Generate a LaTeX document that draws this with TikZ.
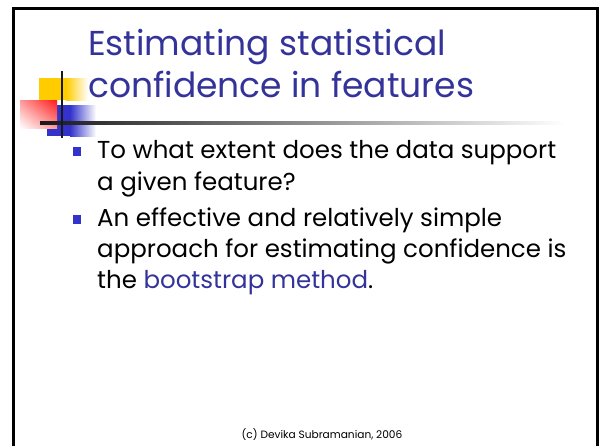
\documentclass[tikz,border=0pt]{standalone}
\usepackage{fontspec}
\usetikzlibrary{shadings}
\setmainfont{Poppins}
\definecolor{titleblue}{HTML}{333399}
\definecolor{bulletblue}{HTML}{3333CC}
\definecolor{decoyellow}{HTML}{FFCC00}
\definecolor{decored}{HTML}{FF1A1A}
\begin{document}
\begin{tikzpicture}[x=1pt,y=-1pt,
  titletext/.style={anchor=base west,inner sep=0pt,text=titleblue,font=\fontsize{34.5}{40}\selectfont},
  bodytext/.style={anchor=base west,inner sep=0pt,text=black,font=\fontsize{24.5}{28}\selectfont},
  bulletsq/.style={fill=bulletblue,draw=none},
  foot/.style={anchor=base,inner sep=0pt,font=\fontsize{10.6}{12}\selectfont}]
\useasboundingbox[fill=white] (0,0) rectangle (602,445);
% frame
\draw[line width=3pt,black] (13,446) -- (13,8) -- (597,8) -- (597,446);
% decorations
\fill[decoyellow] (39,78) rectangle (66,100);
\shade[left color=decoyellow,right color=white] (66,78) rectangle (88,100);
\fill[bulletblue] (47,105) rectangle (70,136);
\shade[left color=bulletblue,right color=white] (70,105) rectangle (96,136);
\shade[upper right=decored,lower left=white,upper left=decored!45!white,lower right=decored!45!white] (20,100) rectangle (57,128);
\shade[left color=black!90,right color=white] (40,121.6) rectangle (565,124.4);
\draw[line width=2.5pt,black!90] (62,71) -- (62,138);
% title
\node[titletext] (t1) at (88,55) {Estimating statistical};
\node[titletext] (t2) at (88,97) {confidence in features};
% bullets
\fill[bulletsq] (73,147) rectangle (81,156);
\fill[bulletsq] (73,215) rectangle (81,224);
\node[bodytext] (b1) at (97,158) {To what extent does the data support};
\node[bodytext] (b2) at (97,190) {a given feature?};
\node[bodytext] (b3) at (97,226) {An effective and relatively simple};
\node[bodytext] (b4) at (97,257) {approach for estimating confidence is};
\node[bodytext] (b5) at (97,288) {the \textcolor{titleblue}{bootstrap method}.};
\node[foot] (f) at (322,438) {(c) Devika Subramanian, 2006};
\end{tikzpicture}
\end{document}
